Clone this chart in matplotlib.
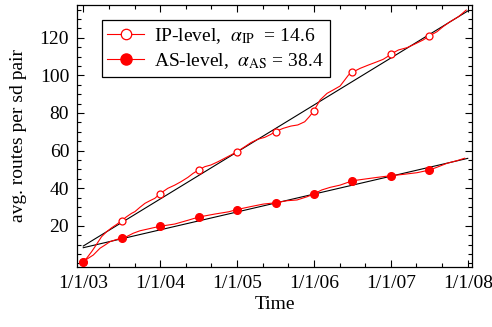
import numpy as np
import matplotlib
matplotlib.use('Agg')
import matplotlib.pyplot as plt
from matplotlib.ticker import MultipleLocator

plt.rcParams['font.family'] = 'Liberation Serif'
plt.rcParams['mathtext.fontset'] = 'stix'

# IP-level curve (decimal year, avg routes)
ip_t = [2003.0, 2003.044, 2003.109, 2003.152, 2003.195, 2003.239, 2003.304, 2003.369,
        2003.434, 2003.5, 2003.564, 2003.629, 2003.672, 2003.737, 2003.802, 2003.867,
        2003.932, 2004.0, 2004.10, 2004.19, 2004.27, 2004.36, 2004.43, 2004.5,
        2004.58, 2004.66, 2004.75, 2004.84, 2004.92, 2005.0, 2005.10, 2005.18,
        2005.27, 2005.36, 2005.44, 2005.5, 2005.60, 2005.70, 2005.79, 2005.88,
        2005.94, 2006.0, 2006.08, 2006.17, 2006.25, 2006.34, 2006.40, 2006.45,
        2006.5, 2006.60, 2006.71, 2006.82, 2006.90, 2006.97, 2007.0, 2007.10,
        2007.21, 2007.31, 2007.42, 2007.5, 2007.60, 2007.68, 2007.77, 2007.88,
        2007.98]
ip_v = [0.9, 2.7, 6.2, 8.8, 11.5, 14.2, 16.8, 18.9,
        20.7, 22.7, 24.8, 26.6, 27.5, 29.8, 31.9, 33.3,
        34.6, 37.1, 39.9, 41.6, 43.4, 45.7, 47.9, 49.6,
        51.4, 52.3, 54.0, 55.9, 57.6, 59.4, 62.0, 64.2,
        66.0, 67.0, 68.6, 70.1, 71.8, 73.0, 73.6, 75.3,
        78.0, 81.2, 86.9, 90.4, 92.2, 94.3, 97.5, 100.2,
        101.6, 103.7, 105.5, 107.2, 108.5, 110.3, 111.3, 113.5,
        114.7, 116.6, 118.8, 120.9, 123.2, 125.9, 128.5, 131.2,
        134.7]

# AS-level curve
as_t = [2003.0, 2003.065, 2003.13, 2003.217, 2003.282, 2003.347, 2003.412, 2003.5,
        2003.564, 2003.65, 2003.737, 2003.824, 2003.91, 2004.0, 2004.19, 2004.37,
        2004.5, 2004.71, 2004.89, 2005.0, 2005.17, 2005.34, 2005.5, 2005.65,
        2005.78, 2005.91, 2006.0, 2006.10, 2006.21, 2006.34, 2006.5, 2006.64,
        2006.82, 2007.0, 2007.16, 2007.34, 2007.5, 2007.60, 2007.73, 2007.86,
        2007.96]
as_v = [0.9, 2.7, 4.4, 8.0, 9.7, 11.5, 12.4, 13.5,
        14.2, 16.0, 17.3, 18.1, 18.9, 19.7, 20.9, 23.0,
        24.6, 26.2, 27.4, 28.6, 30.1, 31.5, 32.2, 33.3,
        33.7, 35.4, 36.9, 39.0, 40.4, 41.6, 43.9, 44.7,
        45.7, 46.6, 47.3, 48.2, 49.6, 51.1, 53.2, 54.6,
        55.9]

# markers every half year
mark_t = [2003.0, 2003.5, 2004.0, 2004.5, 2005.0, 2005.5, 2006.0, 2006.5, 2007.0, 2007.5]
ip_mark = [0.9, 22.7, 37.1, 49.6, 59.4, 70.1, 81.2, 101.6, 111.3, 120.9]
as_mark = [0.9, 13.5, 19.7, 24.6, 28.6, 32.2, 36.9, 43.9, 46.6, 49.6]

# linear fits: slope = 365 / alpha routes per year
alpha_ip = 14.6
alpha_as = 38.4
ip_b = 9.2
as_b = 8.3
fit_t = np.array([2003.0, 2008.0])

xtick_pos = [2003, 2004, 2005, 2006, 2007, 2008]
xtick_lab = ['1/1/03', '1/1/04', '1/1/05', '1/1/06', '1/1/07', '1/1/08']
ytick_pos = [20, 40, 60, 80, 100, 120]

fig = plt.figure(figsize=(4.92, 3.27), dpi=100)
ax = fig.add_axes([0.1575, 0.1844, 0.8018, 0.8003])

ax.plot(fit_t, ip_b + 365.0 / alpha_ip * (fit_t - 2003), color='black', lw=0.8, zorder=2)
ax.plot(fit_t, as_b + 365.0 / alpha_as * (fit_t - 2003), color='black', lw=0.8, zorder=2)

ax.plot(ip_t, ip_v, color='red', lw=0.8, zorder=3)
ax.plot(as_t, as_v, color='red', lw=0.8, zorder=3)
ax.plot(mark_t, ip_mark, 'o', ms=5, mfc='white', mec='red', mew=0.9, zorder=4)
ax.plot(mark_t, as_mark, 'o', ms=5.5, mfc='red', mec='red', zorder=4)

# legend handles
h1, = ax.plot([], [], '-o', color='red', lw=0.8, ms=7.5, mfc='white', mec='red', mew=0.9)
h2, = ax.plot([], [], '-o', color='red', lw=0.8, ms=8, mfc='red', mec='red')
leg = ax.legend([h1, h2],
                [r'IP-level,  $\alpha_{\rm IP}$  = 14.6', r'AS-level,  $\alpha_{\rm AS}$ = 38.4'],
                loc='upper left', bbox_to_anchor=(0.061, 0.943), borderaxespad=0,
                fancybox=False, edgecolor='black', framealpha=1, fontsize=14,
                handlelength=1.9, handletextpad=0.5, borderpad=0.3, labelspacing=0.3)
leg.get_frame().set_linewidth(0.9)

ax.set_xlim(2002.925, 2008.055)
ax.set_ylim(-1.8, 137.4)
ax.set_xticks(xtick_pos)
ax.set_xticklabels(xtick_lab)
ax.set_yticks(ytick_pos)
ax.xaxis.set_minor_locator(MultipleLocator(1.0 / 3))
ax.yaxis.set_minor_locator(MultipleLocator(5))
ax.tick_params(which='both', direction='in', top=True, right=True, labelsize=14)
ax.tick_params(which='major', length=5, width=0.8, pad=6)
ax.tick_params(which='minor', length=3, width=0.8)
for s in ax.spines.values():
    s.set_linewidth(0.9)

ax.set_xlabel('Time', fontsize=14, labelpad=3)
ax.set_ylabel('avg. routes per sd pair', fontsize=14)
ax.yaxis.set_label_coords(-0.128, 0.5)

fig.savefig('out.png', dpi=100)
